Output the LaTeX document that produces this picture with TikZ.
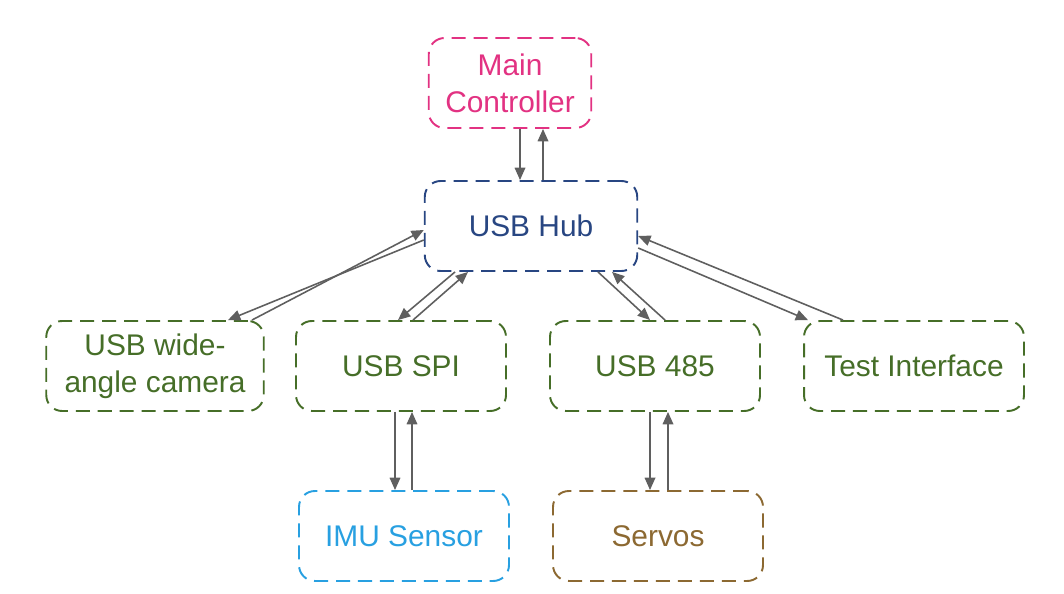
\documentclass[tikz,border=0pt]{standalone}
\usepackage{fontspec}
\setmainfont{Liberation Sans}
\usetikzlibrary{arrows.meta}
\definecolor{cpink}{RGB}{226,50,130}
\definecolor{cblue}{RGB}{40,70,130}
\definecolor{cgreen}{RGB}{70,110,40}
\definecolor{clblue}{RGB}{40,160,225}
\definecolor{cbrown}{RGB}{140,105,50}
\definecolor{carr}{RGB}{95,95,95}
\begin{document}
\begin{tikzpicture}[x=0.02cm,y=-0.02cm,
  box/.style={draw, dashed, dash pattern=on 8pt off 4.5pt, line width=1.1pt, rounded corners=9pt,
    minimum width=#1, minimum height=1.8cm, align=center, font=\fontsize{17}{21}\selectfont, inner sep=2pt},
  box/.default=4.2cm,
  arr/.style={draw=carr, line width=0.9pt, -{Triangle[length=7pt,width=6pt]}}]
\useasboundingbox (0,0) rectangle (1064,594);
\node[box=3.25cm, cpink, text=cpink] (main) at (510,83) {Main\\Controller};
\node[box=4.25cm, cblue, text=cblue] (hub) at (531,226) {USB Hub};
\node[box=4.35cm, cgreen, text=cgreen] (cam) at (155,366) {USB wide-\\angle camera};
\node[box, cgreen, text=cgreen] (spi) at (401,366) {USB SPI};
\node[box, cgreen, text=cgreen] (rs) at (655,366) {USB 485};
\node[box=4.4cm, cgreen, text=cgreen] (test) at (914,366) {Test Interface};
\node[box, clblue, text=clblue] (imu) at (404,536) {IMU Sensor};
\node[box, cbrown, text=cbrown] (serv) at (658,536) {Servos};

\draw[arr] (520,0 |- main.south) -- (520,0 |- hub.north);
\draw[arr] (543,0 |- hub.north) -- (543,0 |- main.south);

\draw[arr] (hub.west |- 0,240) -- (228,0 |- cam.north);
\draw[arr] (252,0 |- cam.north) -- (hub.west |- 0,230);

\draw[arr] (455,0 |- hub.south) -- (398,0 |- spi.north);
\draw[arr] (413,0 |- spi.north) -- (468,0 |- hub.south);

\draw[arr] (598,0 |- hub.south) -- (650,0 |- rs.north);
\draw[arr] (665,0 |- rs.north) -- (612,0 |- hub.south);

\draw[arr] (hub.east |- 0,248) -- (808,0 |- test.north);
\draw[arr] (843,0 |- test.north) -- (hub.east |- 0,236);

\draw[arr] (395,0 |- spi.south) -- (395,0 |- imu.north);
\draw[arr] (412,0 |- imu.north) -- (412,0 |- spi.south);
\draw[arr] (650,0 |- rs.south) -- (650,0 |- serv.north);
\draw[arr] (668,0 |- serv.north) -- (668,0 |- rs.south);
\end{tikzpicture}
\end{document}
